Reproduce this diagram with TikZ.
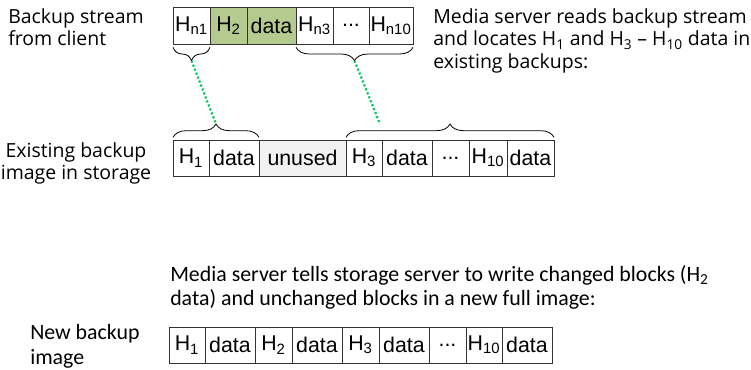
\documentclass[tikz,border=0pt]{standalone}
\usepackage{fontspec}
\setmainfont{Open Sans}
\newfontfamily\cellfont{Liberation Sans}
\newfontfamily\narrowfont{Carlito}
\usetikzlibrary{positioning,decorations.pathreplacing,calc}
\definecolor{changedgreen}{RGB}{181,202,142}
\definecolor{unusedgray}{RGB}{242,242,242}
\definecolor{linkgreen}{RGB}{0,200,90}

\begin{document}
\begin{tikzpicture}[x=0.75pt, y=-0.75pt,
    cell/.style={draw=black!80, line width=0.6pt, outer sep=0pt, inner sep=0pt, minimum height=27pt, minimum width=#1*0.75pt, font=\cellfont\fontsize{16}{18}\selectfont},
    brcdown/.style={decorate, decoration={brace, mirror, amplitude=10pt}, line width=0.6pt},
    brcup/.style={decorate, decoration={brace, amplitude=10pt}, line width=0.6pt},
    link/.style={linkgreen, line width=1.6pt, dash pattern=on 1.6pt off 1.6pt},
    lbl/.style={font=\fontsize{14.6}{17.2}\selectfont, inner sep=0pt, align=left},
    narrowlbl/.style={font=\narrowfont\fontsize{16.4}{18.5}\selectfont, inner sep=0pt, align=left}]
    \useasboundingbox (0,0) rectangle (751,369);

    % backup stream from client
    \node[cell=37, minimum height=27.75pt] (t1) at (191.5,25.5) {H\textsubscript{n1}};
    \node[cell=37, minimum height=27.75pt, fill=changedgreen, right=0pt of t1] (t2) {H\textsubscript{2}};
    \node[cell=49, minimum height=27.75pt, fill=changedgreen, right=0pt of t2] (t3) {data};
    \node[cell=37, minimum height=27.75pt, right=0pt of t3] (t4) {H\textsubscript{n3}};
    \node[cell=36, minimum height=27.75pt, right=0pt of t4] (t5) {.{}.{}.};
    \node[cell=44, minimum height=27.75pt, right=0pt of t5] (t6) {H\textsubscript{n10}};

    % existing backup image
    \node[cell=36] (m1) at (191,158) {H\textsubscript{1}};
    \node[cell=50, right=0pt of m1] (m2) {data};
    \node[cell=87, fill=unusedgray, right=0pt of m2] (m3) {unused};
    \node[cell=36, right=0pt of m3] (m4) {H\textsubscript{3}};
    \node[cell=50, right=0pt of m4] (m5) {data};
    \node[cell=37, right=0pt of m5] (m6) {.{}.{}.};
    \node[cell=38, right=0pt of m6] (m7) {H\textsubscript{10}};
    \node[cell=47, right=0pt of m7] (m8) {data};

    % new backup image
    \node[cell=36] (n1) at (187,345) {H\textsubscript{1}};
    \node[cell=50, right=0pt of n1] (n2) {data};
    \node[cell=37, right=0pt of n2] (n3) {H\textsubscript{2}};
    \node[cell=50, right=0pt of n3] (n4) {data};
    \node[cell=37, right=0pt of n4] (n5) {H\textsubscript{3}};
    \node[cell=50, right=0pt of n5] (n6) {data};
    \node[cell=37, right=0pt of n6] (n7) {.{}.{}.};
    \node[cell=36, right=0pt of n7] (n8) {H\textsubscript{10}};
    \node[cell=50, right=0pt of n8] (n9) {data};

    % braces
    \draw[brcdown] ([yshift=-2.5pt]t1.south west) -- ([yshift=-2.5pt]t1.south east) coordinate[midway, yshift=-10pt] (tipa);
    \draw[brcdown] ([yshift=-2.5pt]t4.south west) -- ([yshift=-2.5pt]t6.south east) coordinate[midway, yshift=-10pt] (tipb);
    \draw[brcup] ([yshift=2pt]m1.north west) -- ([yshift=2pt]m2.north east) coordinate[midway, yshift=10pt] (tipc);
    \draw[brcup] ([yshift=2pt]m4.north west) -- ([yshift=2pt]m8.north east) coordinate[midway, yshift=10pt] (tipd);

    % links
    \coordinate (linkend) at (380,124);
    \draw[link] (tipa) -- (tipc);
    \draw[link] (tipb) -- (linkend);

    % labels
    \node[lbl, anchor=north west] (streamlbl) at (8,8) {Backup stream\\from client};
    \node[lbl, anchor=north west] (readlbl) at (433,8) {Media server reads backup stream\\and locates H\textsubscript{1} and H\textsubscript{3} -- H\textsubscript{10} data in\\existing backups:};
    \node[lbl, align=center, anchor=north] (existlbl) at (76,142) {Existing backup\\image in storage};
    \node[narrowlbl, anchor=north west] (writelbl) at (170,265) {Media server tells storage server to write changed blocks (H\textsubscript{2}\\data) and unchanged blocks in a new full image:};
    \node[narrowlbl, anchor=north west] (newlbl) at (30,324) {New backup\\image};
\end{tikzpicture}
\end{document}
